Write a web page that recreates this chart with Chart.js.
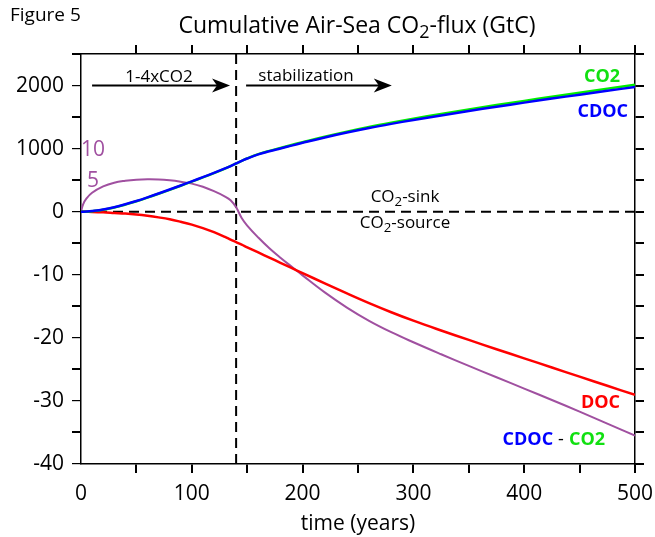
<!DOCTYPE html>
<html>
<head>
<meta charset="utf-8">
<script src="https://cdn.jsdelivr.net/npm/chart.js@4.4.1/dist/chart.umd.min.js"></script>
<style>
  html, body { margin: 0; padding: 0; background: #fff; }
</style>
</head>
<body>
<canvas id="fig5" width="655" height="537"></canvas>
<script>
// years since start of the run (x axis)
const years = [0, 2, 5, 10, 20, 30, 40, 50, 60, 70, 80, 90, 100, 110, 120, 130, 135, 140, 145, 150,
  160, 170, 180, 190, 200, 220, 240, 260, 280, 300, 325, 350, 375, 400, 425, 450, 475, 500];

// cumulative air-sea flux, GtC
const co2 = [0, 0, 1, 8, 31, 66, 112, 165, 223, 284, 347, 411, 477, 543, 612, 684, 722, 764, 806, 845,
  912, 964, 1010, 1057, 1102, 1189, 1269, 1343, 1411, 1475, 1549, 1621, 1690, 1757, 1823, 1887, 1951, 2013];
const cdoc = [0, 0.6, 3, 11, 35, 71, 117, 170, 228, 289, 352, 416, 481, 547, 615, 686, 724, 765, 805, 843,
  908, 958, 1003, 1048, 1092, 1176, 1254, 1326, 1392, 1454, 1526, 1596, 1664, 1729, 1793, 1855, 1917, 1977];
const doc = [0, 0, -0.01, -0.03, -0.1, -0.2, -0.3, -0.45, -0.65, -0.9, -1.2, -1.6, -2.05, -2.6, -3.25, -4.0, -4.42, -4.82, -5.22, -5.64,
  -6.46, -7.28, -8.1, -8.92, -9.74, -11.36, -12.96, -14.5, -15.94, -17.28, -18.83, -20.33, -21.8, -23.25, -24.7, -26.15, -27.6, -29.05];
const cdocMinusCo2 = [0, 1.2, 2.1, 3.0, 4.0, 4.6, 4.9, 5.08, 5.15, 5.12, 4.98, 4.75, 4.45, 3.95, 3.25, 2.4, 1.8, 0.7, -1.0, -2.2,
  -4.1, -5.8, -7.3, -8.7, -10.1, -12.8, -15.2, -17.3, -19.1, -20.7, -22.6, -24.45, -26.25, -28.05, -29.85, -31.7, -33.6, -35.5];

// y tick labels: the axis is broken at zero, above it one step = 100 GtC
const yTickValues = [-40, -30, -20, -10, 0, 10, 20];
const yTickLabels = ['-40', '-30', '-20', '-10', '0', '1000', '2000'];
const purpleTicks = [5, 10];
const rampEnd = 140;
const upperStep = 100;

// put a GtC value on the broken axis
function toAxis(v) {
  return v > 0 ? v / upperStep : v;
}

function toPoints(arr, f) {
  return years.map((x, i) => ({ x: x, y: f ? f(arr[i]) : arr[i] }));
}

// fixed axis box, no extra room for overhanging labels
function fixBox(prop, val) {
  return (s) => {
    s[prop] = val;
    s.paddingLeft = s.paddingRight = s.paddingTop = s.paddingBottom = 0;
  };
}

const FONT = "'Open Sans', sans-serif";
Chart.defaults.font.family = FONT;
Chart.defaults.color = '#000';

const xGrid = {
  drawOnChartArea: false,
  tickLength: 9,
  color: (c) => (c.tick && c.tick.value === 0 ? 'rgba(0,0,0,0)' : '#000'),
  lineWidth: 2
};
const yGrid = {
  drawOnChartArea: false,
  tickLength: 9,
  color: '#000',
  lineWidth: (c) => (c.tick && c.tick.value % 10 === 0 ? 1.2 : 2)
};

// text with a lowered "2"
function drawParts(c, parts, x, y, size, align) {
  let w = 0;
  parts.forEach((p) => {
    c.font = (p[1] ? size * 0.78 : size) + 'px ' + FONT;
    w += c.measureText(p[0]).width;
  });
  let cx = align === 'center' ? x - w / 2 : x;
  c.textAlign = 'left';
  parts.forEach((p) => {
    c.font = (p[1] ? size * 0.78 : size) + 'px ' + FONT;
    c.fillText(p[0], cx, p[1] ? y + size * 0.22 : y);
    cx += c.measureText(p[0]).width;
  });
}

function arrow(c, x1, x2, y) {
  c.beginPath();
  c.moveTo(x1, y);
  c.lineTo(x2 - 10, y);
  c.lineWidth = 2;
  c.strokeStyle = '#000';
  c.stroke();
  c.beginPath();
  c.moveTo(x2, y);
  c.lineTo(x2 - 18, y - 7);
  c.lineTo(x2 - 13, y);
  c.lineTo(x2 - 18, y + 7);
  c.closePath();
  c.fillStyle = '#000';
  c.fill();
}

const notes = {
  id: 'notes',
  afterDraw(chart) {
    const c = chart.ctx;
    const xs = chart.scales.x, ys = chart.scales.y;
    c.save();
    c.fillStyle = '#000';
    c.textBaseline = 'alphabetic';

    c.font = '19px ' + FONT;
    c.textAlign = 'left';
    c.fillText('Figure 5', 10, 21);

    drawParts(c, [['Cumulative Air-Sea CO', 0], ['2', 1], ['-flux (GtC)', 0]], 357, 33, 23, 'center');

    // forcing phases
    const ay = ys.getPixelForValue(20);
    arrow(c, xs.getPixelForValue(10), xs.getPixelForValue(134.5), ay);
    arrow(c, xs.getPixelForValue(149), xs.getPixelForValue(280.5), ay);
    c.fillStyle = '#000';
    c.font = '17px ' + FONT;
    c.textAlign = 'center';
    c.fillText('1-4xCO2', 159, 82);
    c.fillText('stabilization', 306, 81);

    drawParts(c, [['CO', 0], ['2', 1], ['-sink', 0]], 405, 202, 17, 'center');
    drawParts(c, [['CO', 0], ['2', 1], ['-source', 0]], 405, 228, 17, 'center');

    // series names
    c.font = 'bold 18px ' + FONT;
    c.textAlign = 'right';
    c.fillStyle = '#11e011';
    c.fillText('CO2', 620, 82);
    c.fillStyle = '#0000ff';
    c.fillText('CDOC', 628, 117);
    c.fillStyle = '#ff0000';
    c.fillText('DOC', 620, 408);
    c.fillStyle = '#11e011';
    c.fillText('CO2', 605, 445);
    let gx = 605 - c.measureText('CO2').width - 5;
    c.fillStyle = '#000';
    c.font = '18px ' + FONT;
    c.fillText('-', gx, 445);
    gx -= c.measureText('-').width + 5;
    c.font = 'bold 18px ' + FONT;
    c.fillStyle = '#0000ff';
    c.fillText('CDOC', gx, 445);

    // purple scale for CDOC - CO2 above zero
    c.font = '21px ' + FONT;
    c.fillStyle = '#a050a0';
    c.textAlign = 'center';
    c.textBaseline = 'middle';
    purpleTicks.forEach((t) => {
      c.fillText(String(t), xs.left + 12, ys.getPixelForValue(t) + 1);
    });

    c.fillStyle = '#000';
    c.textBaseline = 'alphabetic';
    c.fillText('time (years)', (xs.left + xs.right) / 2, 530);
    c.restore();
  }
};

new Chart(document.getElementById('fig5'), {
  type: 'line',
  data: {
    datasets: [
      { label: 'CDOC', data: toPoints(cdoc, toAxis), borderColor: '#0000ff', borderWidth: 2.5, order: 0 },
      { label: 'CO2', data: toPoints(co2, toAxis), borderColor: '#00ee00', borderWidth: 2.5, order: 1 },
      { label: 'DOC', data: toPoints(doc), borderColor: '#ff0000', borderWidth: 2.5, order: 2 },
      { label: 'CDOC - CO2', data: toPoints(cdocMinusCo2), borderColor: '#a050a0', borderWidth: 2, order: 3 },
      { label: 'sink/source', data: [{ x: 0, y: 0 }, { x: 500, y: 0 }], borderColor: '#000', borderWidth: 2,
        borderDash: [10, 6], tension: 0, order: 4 },
      { label: 'end of ramp', data: [{ x: rampEnd, y: -40 }, { x: rampEnd, y: 25 }], borderColor: '#000', borderWidth: 2,
        borderDash: [10, 6], tension: 0, order: 5 }
    ]
  },
  options: {
    responsive: false,
    animation: false,
    layout: { padding: 0 },
    elements: {
      point: { radius: 0 },
      line: { tension: 0.4, fill: false }
    },
    plugins: {
      legend: { display: false },
      tooltip: { enabled: false }
    },
    scales: {
      x: {
        type: 'linear', position: 'bottom', min: 0, max: 500,
        ticks: { stepSize: 50, autoSkip: false, maxRotation: 0, padding: 8, font: { size: 21 },
          callback: (v) => (v % 100 === 0 ? String(v) : '') },
        grid: xGrid,
        border: { color: '#000', width: 1.5 },
        afterFit: fixBox('height', 73)
      },
      xTop: {
        type: 'linear', position: 'top', min: 0, max: 500,
        ticks: { stepSize: 50, autoSkip: false, maxRotation: 0, callback: () => '' },
        grid: xGrid,
        border: { color: '#000', width: 1.5 },
        afterFit: fixBox('height', 54)
      },
      y: {
        type: 'linear', position: 'left', min: -40, max: 25,
        ticks: { stepSize: 5, autoSkip: false, padding: 8, font: { size: 21 },
          callback: (v) => { const i = yTickValues.indexOf(v); return i < 0 ? '' : yTickLabels[i]; } },
        grid: yGrid,
        border: { color: '#000', width: 1.5 },
        afterFit: fixBox('width', 81)
      },
      yRight: {
        type: 'linear', position: 'right', min: -40, max: 25,
        ticks: { stepSize: 5, autoSkip: false, callback: () => '' },
        grid: { drawOnChartArea: false, tickLength: 9, color: '#000', lineWidth: 2 },
        border: { color: '#000', width: 1.5 },
        afterFit: fixBox('width', 20)
      }
    }
  },
  plugins: [notes]
});
</script>
</body>
</html>
